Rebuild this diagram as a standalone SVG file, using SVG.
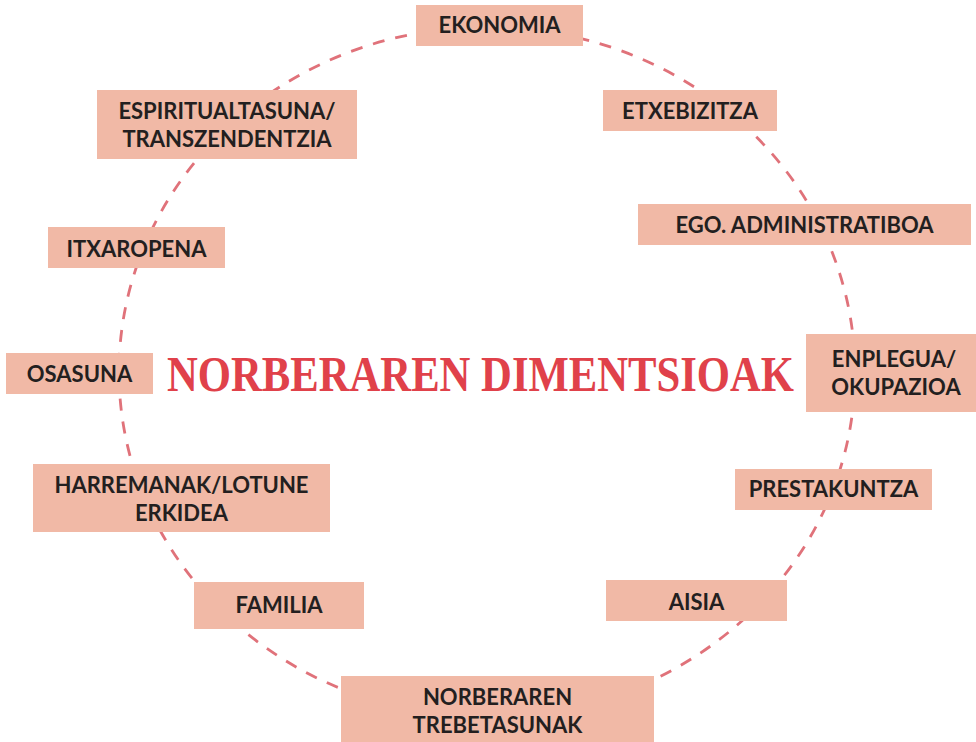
<svg xmlns="http://www.w3.org/2000/svg" width="976" height="742" viewBox="0 0 976 742">
<style>
.box{fill:#f1b9a6}
.lbl{font-family:Lato,"Open Sans","Liberation Sans",sans-serif;font-weight:700;font-size:22px;fill:#231f20;text-anchor:middle}
.ring{fill:none;stroke:#e0727a;stroke-width:2.8;stroke-dasharray:12 11}
.title{font-family:"Liberation Serif","DejaVu Serif",serif;font-weight:700;font-size:50px;fill:#e0414a}
</style>
<rect width="976" height="742" fill="#ffffff"/>
<g id="connectors">
<ellipse class="ring" cx="487" cy="372" rx="368" ry="345"/>
</g>
<text class="title" x="167" y="391" textLength="627" lengthAdjust="spacingAndGlyphs">NORBERAREN DIMENTSIOAK</text>
<g id="ekonomia"><rect class="box" x="416" y="5" width="167" height="41"/><text class="lbl" x="499.5" y="33">EKONOMIA</text></g>
<g id="etxebizitza"><rect class="box" x="603" y="90" width="174" height="41"/><text class="lbl" x="690" y="119">ETXEBIZITZA</text></g>
<g id="ego"><rect class="box" x="638" y="204" width="333" height="41"/><text class="lbl" x="804.5" y="233">EGO. ADMINISTRATIBOA</text></g>
<g id="enplegua"><rect class="box" x="806" y="334" width="170" height="78"/><text class="lbl" x="894" y="367">ENPLEGUA/</text><text class="lbl" x="896" y="395">OKUPAZIOA</text></g>
<g id="prestakuntza"><rect class="box" x="735" y="469" width="197" height="41"/><text class="lbl" x="833.5" y="497">PRESTAKUNTZA</text></g>
<g id="aisia"><rect class="box" x="606" y="580" width="181" height="41"/><text class="lbl" x="696.5" y="610">AISIA</text></g>
<g id="trebetasunak"><rect class="box" x="341" y="676" width="313" height="66"/><text class="lbl" x="497.5" y="705">NORBERAREN</text><text class="lbl" x="497.5" y="733">TREBETASUNAK</text></g>
<g id="familia"><rect class="box" x="194" y="582" width="170" height="47"/><text class="lbl" x="279" y="613">FAMILIA</text></g>
<g id="harremanak"><rect class="box" x="33" y="464" width="297" height="68"/><text class="lbl" x="181.5" y="493">HARREMANAK/LOTUNE</text><text class="lbl" x="181.5" y="521">ERKIDEA</text></g>
<g id="osasuna"><rect class="box" x="6" y="353" width="147" height="41"/><text class="lbl" x="79.5" y="382">OSASUNA</text></g>
<g id="itxaropena"><rect class="box" x="48" y="227" width="177" height="41"/><text class="lbl" x="136.5" y="257">ITXAROPENA</text></g>
<g id="espiritualtasuna"><rect class="box" x="97" y="90" width="260" height="69"/><text class="lbl" x="227" y="119">ESPIRITUALTASUNA/</text><text class="lbl" x="227" y="147">TRANSZENDENTZIA</text></g>
</svg>
